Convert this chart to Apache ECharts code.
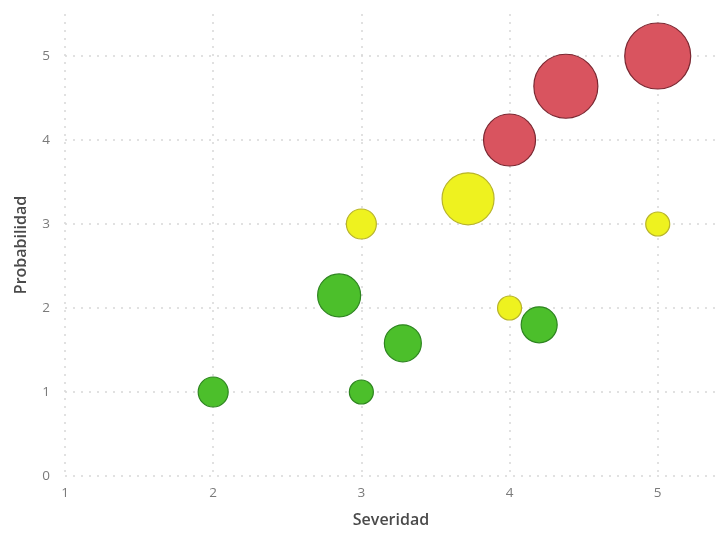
<!DOCTYPE html>
<html>
<head>
<meta charset="utf-8">
<script src="https://cdn.jsdelivr.net/npm/echarts@6/dist/echarts.min.js"></script>
<style>
  html, body { margin: 0; padding: 0; background: #fff; }
  #chart { width: 719px; height: 533px; }
</style>
</head>
<body>
<div id="chart"></div>
<script>
// Risk matrix points: severity (x), probability (y), bubble size and risk level
const severidad    = [2,    3,    2.85, 3.28, 4.2,  3,     4,     5,     3.72,  4,    4.38, 5];
const probabilidad = [1,    1,    2.15, 1.58, 1.8,  3,     2,     3,     3.3,   4,    4.64, 5];
const tamano       = [30,   24,   43,   37,   36,   30,    24,    24,    52,    52,   64,   66];
const nivel        = ['bajo','bajo','bajo','bajo','bajo','medio','medio','medio','medio','alto','alto','alto'];

const xTicks = [1, 2, 3, 4, 5];
const yTicks = [0, 1, 2, 3, 4, 5];

const estilos = {
  bajo:  { color: '#4cbf2b', borderColor: '#2e8520' },
  medio: { color: '#eef21f', borderColor: '#b8b42a' },
  alto:  { color: '#d9545f', borderColor: '#7a2731' }
};

const puntos = severidad.map((x, i) => ({
  value: [x, probabilidad[i], tamano[i]],
  itemStyle: Object.assign({ borderWidth: 1.2, opacity: 1 }, estilos[nivel[i]])
}));

const grid = { left: 65, right: 2, top: 14, bottom: 57, outerBoundsMode: 'none', containLabel: false };
const font = '"Open Sans", "Noto Sans", sans-serif';

const chart = echarts.init(document.getElementById('chart'), null, { renderer: 'canvas' });
chart.setOption({
  animation: false,
  backgroundColor: '#ffffff',
  grid: grid,
  xAxis: {
    type: 'value',
    min: xTicks[0],
    max: 5.4,
    interval: 1,
    name: 'Severidad',
    nameLocation: 'middle',
    nameGap: 36,
    nameTextStyle: { fontFamily: font, fontSize: 16, fontWeight: 600, color: '#4a4a4a' },
    axisLine: { show: false },
    axisTick: { show: false },
    axisLabel: {
      margin: 10, fontFamily: font, fontSize: 13.5, color: '#7a7a7a',
      showMaxLabel: false,
      formatter: v => (xTicks.includes(v) ? String(v) : '')
    },
    splitLine: {
      show: true, showMaxLine: false,
      lineStyle: { type: [2, 6], color: '#d8d8d8', width: 1.5 }
    }
  },
  yAxis: {
    type: 'value',
    min: yTicks[0],
    max: 5.5,
    interval: 1,
    name: 'Probabilidad',
    nameLocation: 'middle',
    nameGap: 36,
    nameTextStyle: { fontFamily: font, fontSize: 16, fontWeight: 600, color: '#4a4a4a' },
    axisLine: { show: false },
    axisTick: { show: false },
    axisLabel: {
      margin: 15, fontFamily: font, fontSize: 13.5, color: '#7a7a7a',
      showMaxLabel: false,
      formatter: v => (yTicks.includes(v) ? String(v) : '')
    },
    splitLine: {
      show: true, showMaxLine: false,
      lineStyle: { type: [2, 6], color: '#d8d8d8', width: 1.5 }
    }
  },
  series: [{
    type: 'scatter',
    data: puntos,
    symbolSize: v => v[2],
    emphasis: { disabled: true }
  }]
});
</script>
</body>
</html>
